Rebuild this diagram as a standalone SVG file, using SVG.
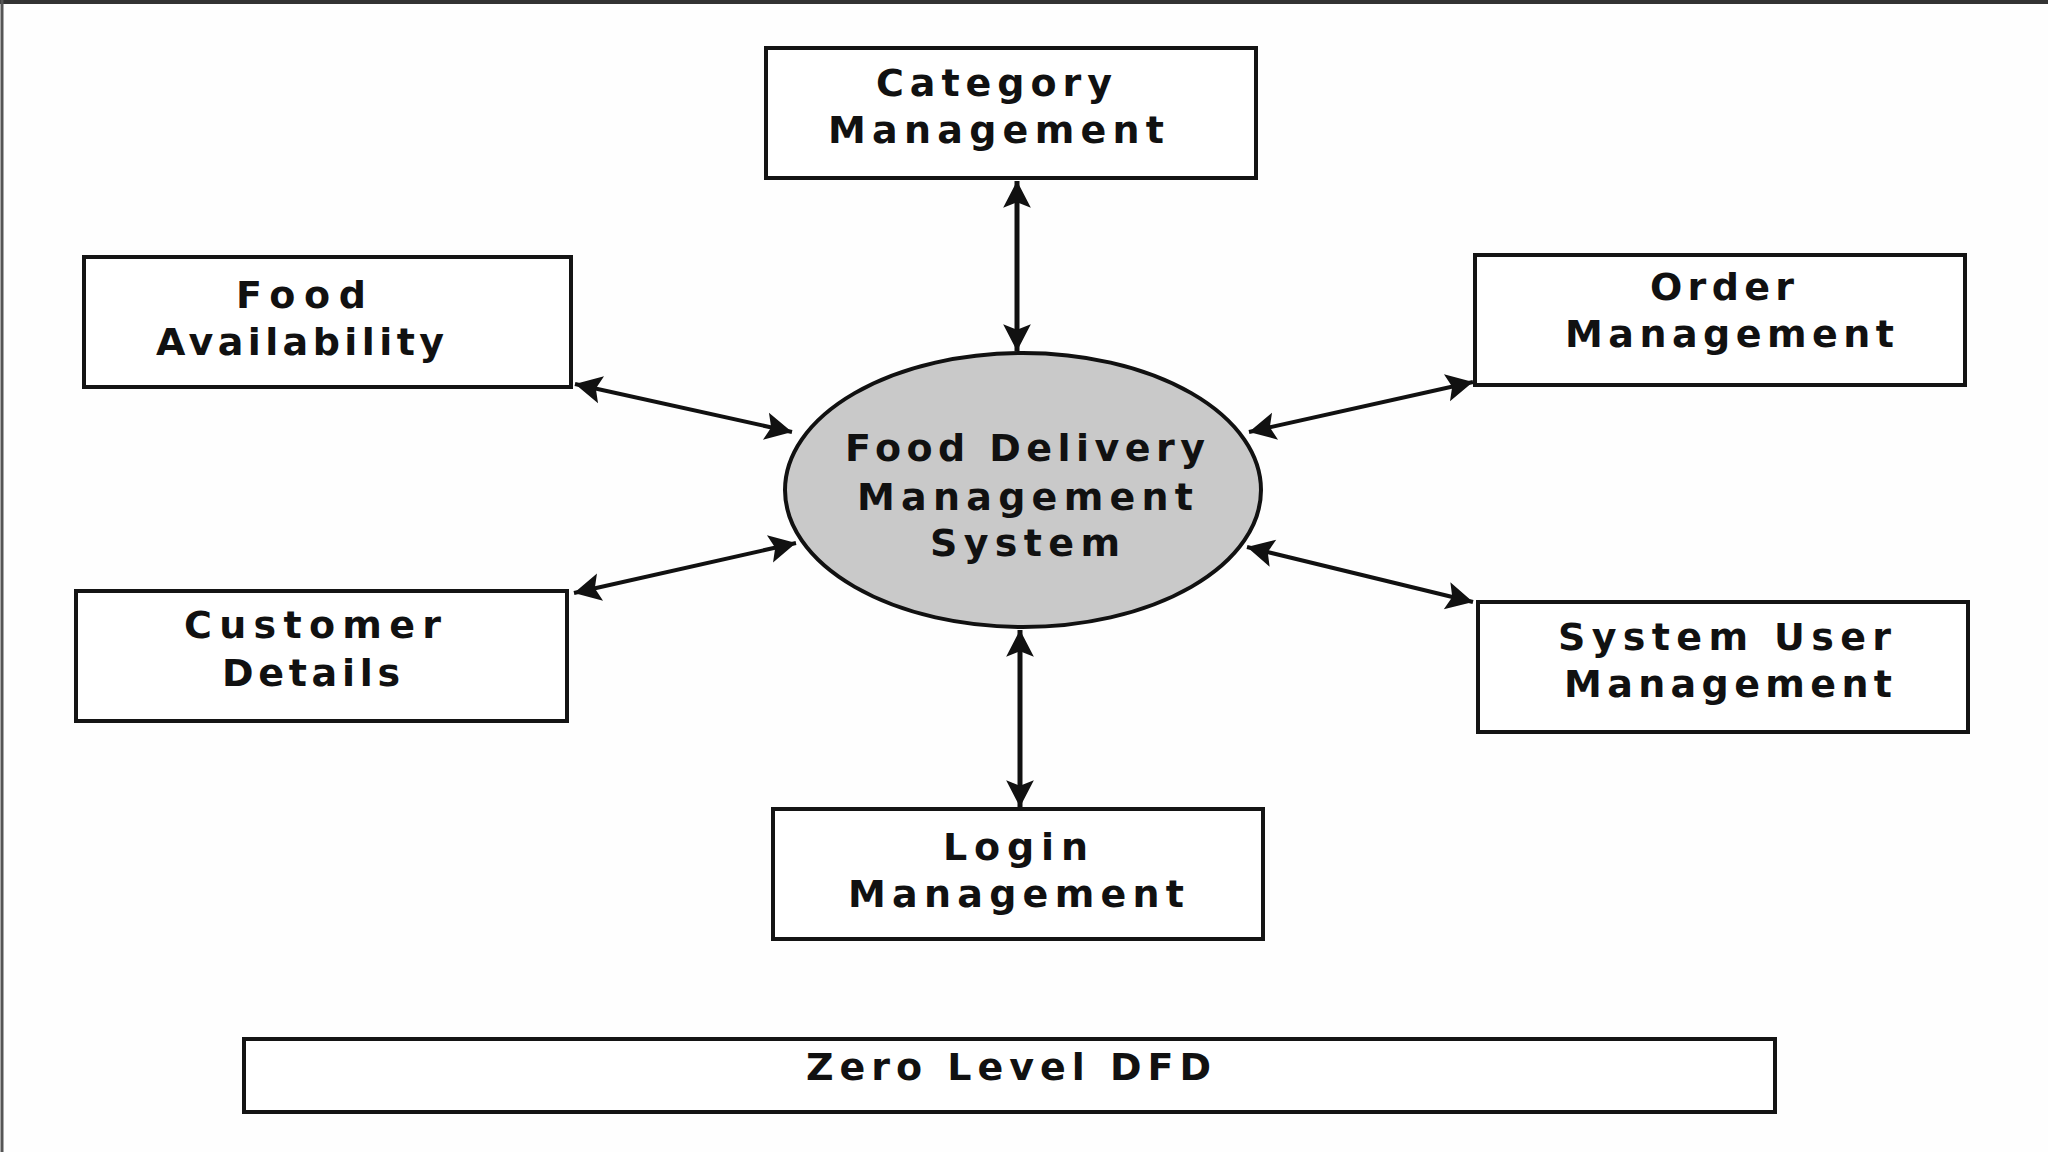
<svg xmlns="http://www.w3.org/2000/svg" width="2048" height="1152" viewBox="0 0 2048 1152">
<style>
.box{fill:#ffffff;stroke:#141414;stroke-width:4}
.lbl{font-family:"DejaVu Sans","Liberation Sans",Arial,sans-serif;font-weight:bold;font-size:38px;fill:#111}
.conn{stroke:#111;fill:none}
</style>
<defs>
<marker id="ah" markerUnits="userSpaceOnUse" markerWidth="32" markerHeight="32" viewBox="-26 -15 28 30" refX="0" refY="0" orient="auto-start-reverse">
<path d="M0,0 L-25,-13 L-20,0 L-25,13 Z" fill="#111"/>
</marker>
</defs>
<rect x="0" y="0" width="2048" height="1152" fill="#fefefe"/>
<line x1="0" y1="2" x2="2048" y2="2" stroke="#333" stroke-width="4"/>
<line x1="2" y1="0" x2="2" y2="1152" stroke="#555" stroke-width="3"/>

<g id="connectors">
<line class="conn" stroke-width="5" x1="1017" y1="181" x2="1017" y2="351" marker-start="url(#ah)" marker-end="url(#ah)"/>
<line class="conn" stroke-width="5" x1="1020" y1="630" x2="1020" y2="807" marker-start="url(#ah)" marker-end="url(#ah)"/>
<line class="conn" stroke-width="4" x1="575" y1="384" x2="792" y2="432" marker-start="url(#ah)" marker-end="url(#ah)"/>
<line class="conn" stroke-width="4" x1="574" y1="593" x2="796" y2="543" marker-start="url(#ah)" marker-end="url(#ah)"/>
<line class="conn" stroke-width="4" x1="1249" y1="432" x2="1473" y2="382" marker-start="url(#ah)" marker-end="url(#ah)"/>
<line class="conn" stroke-width="4" x1="1247" y1="547" x2="1473" y2="602" marker-start="url(#ah)" marker-end="url(#ah)"/>
</g>

<g id="category-management">
<rect class="box" x="766" y="48" width="490" height="130"/>
<text class="lbl" x="876" y="96" textLength="236" lengthAdjust="spacing">Category</text>
<text class="lbl" x="828" y="143" textLength="336" lengthAdjust="spacing">Management</text>
</g>

<g id="food-availability">
<rect class="box" x="84" y="257" width="487" height="130"/>
<text class="lbl" x="236" y="308" textLength="130" lengthAdjust="spacing">Food</text>
<text class="lbl" x="156" y="355" textLength="288" lengthAdjust="spacing">Availability</text>
</g>

<g id="order-management">
<rect class="box" x="1475" y="255" width="490" height="130"/>
<text class="lbl" x="1650" y="300" textLength="144" lengthAdjust="spacing">Order</text>
<text class="lbl" x="1565" y="347" textLength="329" lengthAdjust="spacing">Management</text>
</g>

<g id="customer-details">
<rect class="box" x="76" y="591" width="491" height="130"/>
<text class="lbl" x="184" y="638" textLength="257" lengthAdjust="spacing">Customer</text>
<text class="lbl" x="222" y="686" textLength="178" lengthAdjust="spacing">Details</text>
</g>

<g id="system-user-management">
<rect class="box" x="1478" y="602" width="490" height="130"/>
<text class="lbl" x="1558" y="650" textLength="333" lengthAdjust="spacing">System User</text>
<text class="lbl" x="1564" y="697" textLength="328" lengthAdjust="spacing">Management</text>
</g>

<g id="login-management">
<rect class="box" x="773" y="809" width="490" height="130"/>
<text class="lbl" x="943" y="860" textLength="145" lengthAdjust="spacing">Login</text>
<text class="lbl" x="848" y="907" textLength="336" lengthAdjust="spacing">Management</text>
</g>

<g id="food-delivery-management-system">
<ellipse cx="1023" cy="490" rx="238" ry="137" fill="#c9c9c9" stroke="#111" stroke-width="4"/>
<text class="lbl" x="845" y="461" textLength="360" lengthAdjust="spacing">Food Delivery</text>
<text class="lbl" x="857" y="510" textLength="336" lengthAdjust="spacing">Management</text>
<text class="lbl" x="930" y="556" textLength="190" lengthAdjust="spacing">System</text>
</g>

<g id="zero-level-dfd">
<rect class="box" x="244" y="1039" width="1531" height="73"/>
<text class="lbl" x="806" y="1080" textLength="405" lengthAdjust="spacing">Zero Level DFD</text>
</g>
</svg>
